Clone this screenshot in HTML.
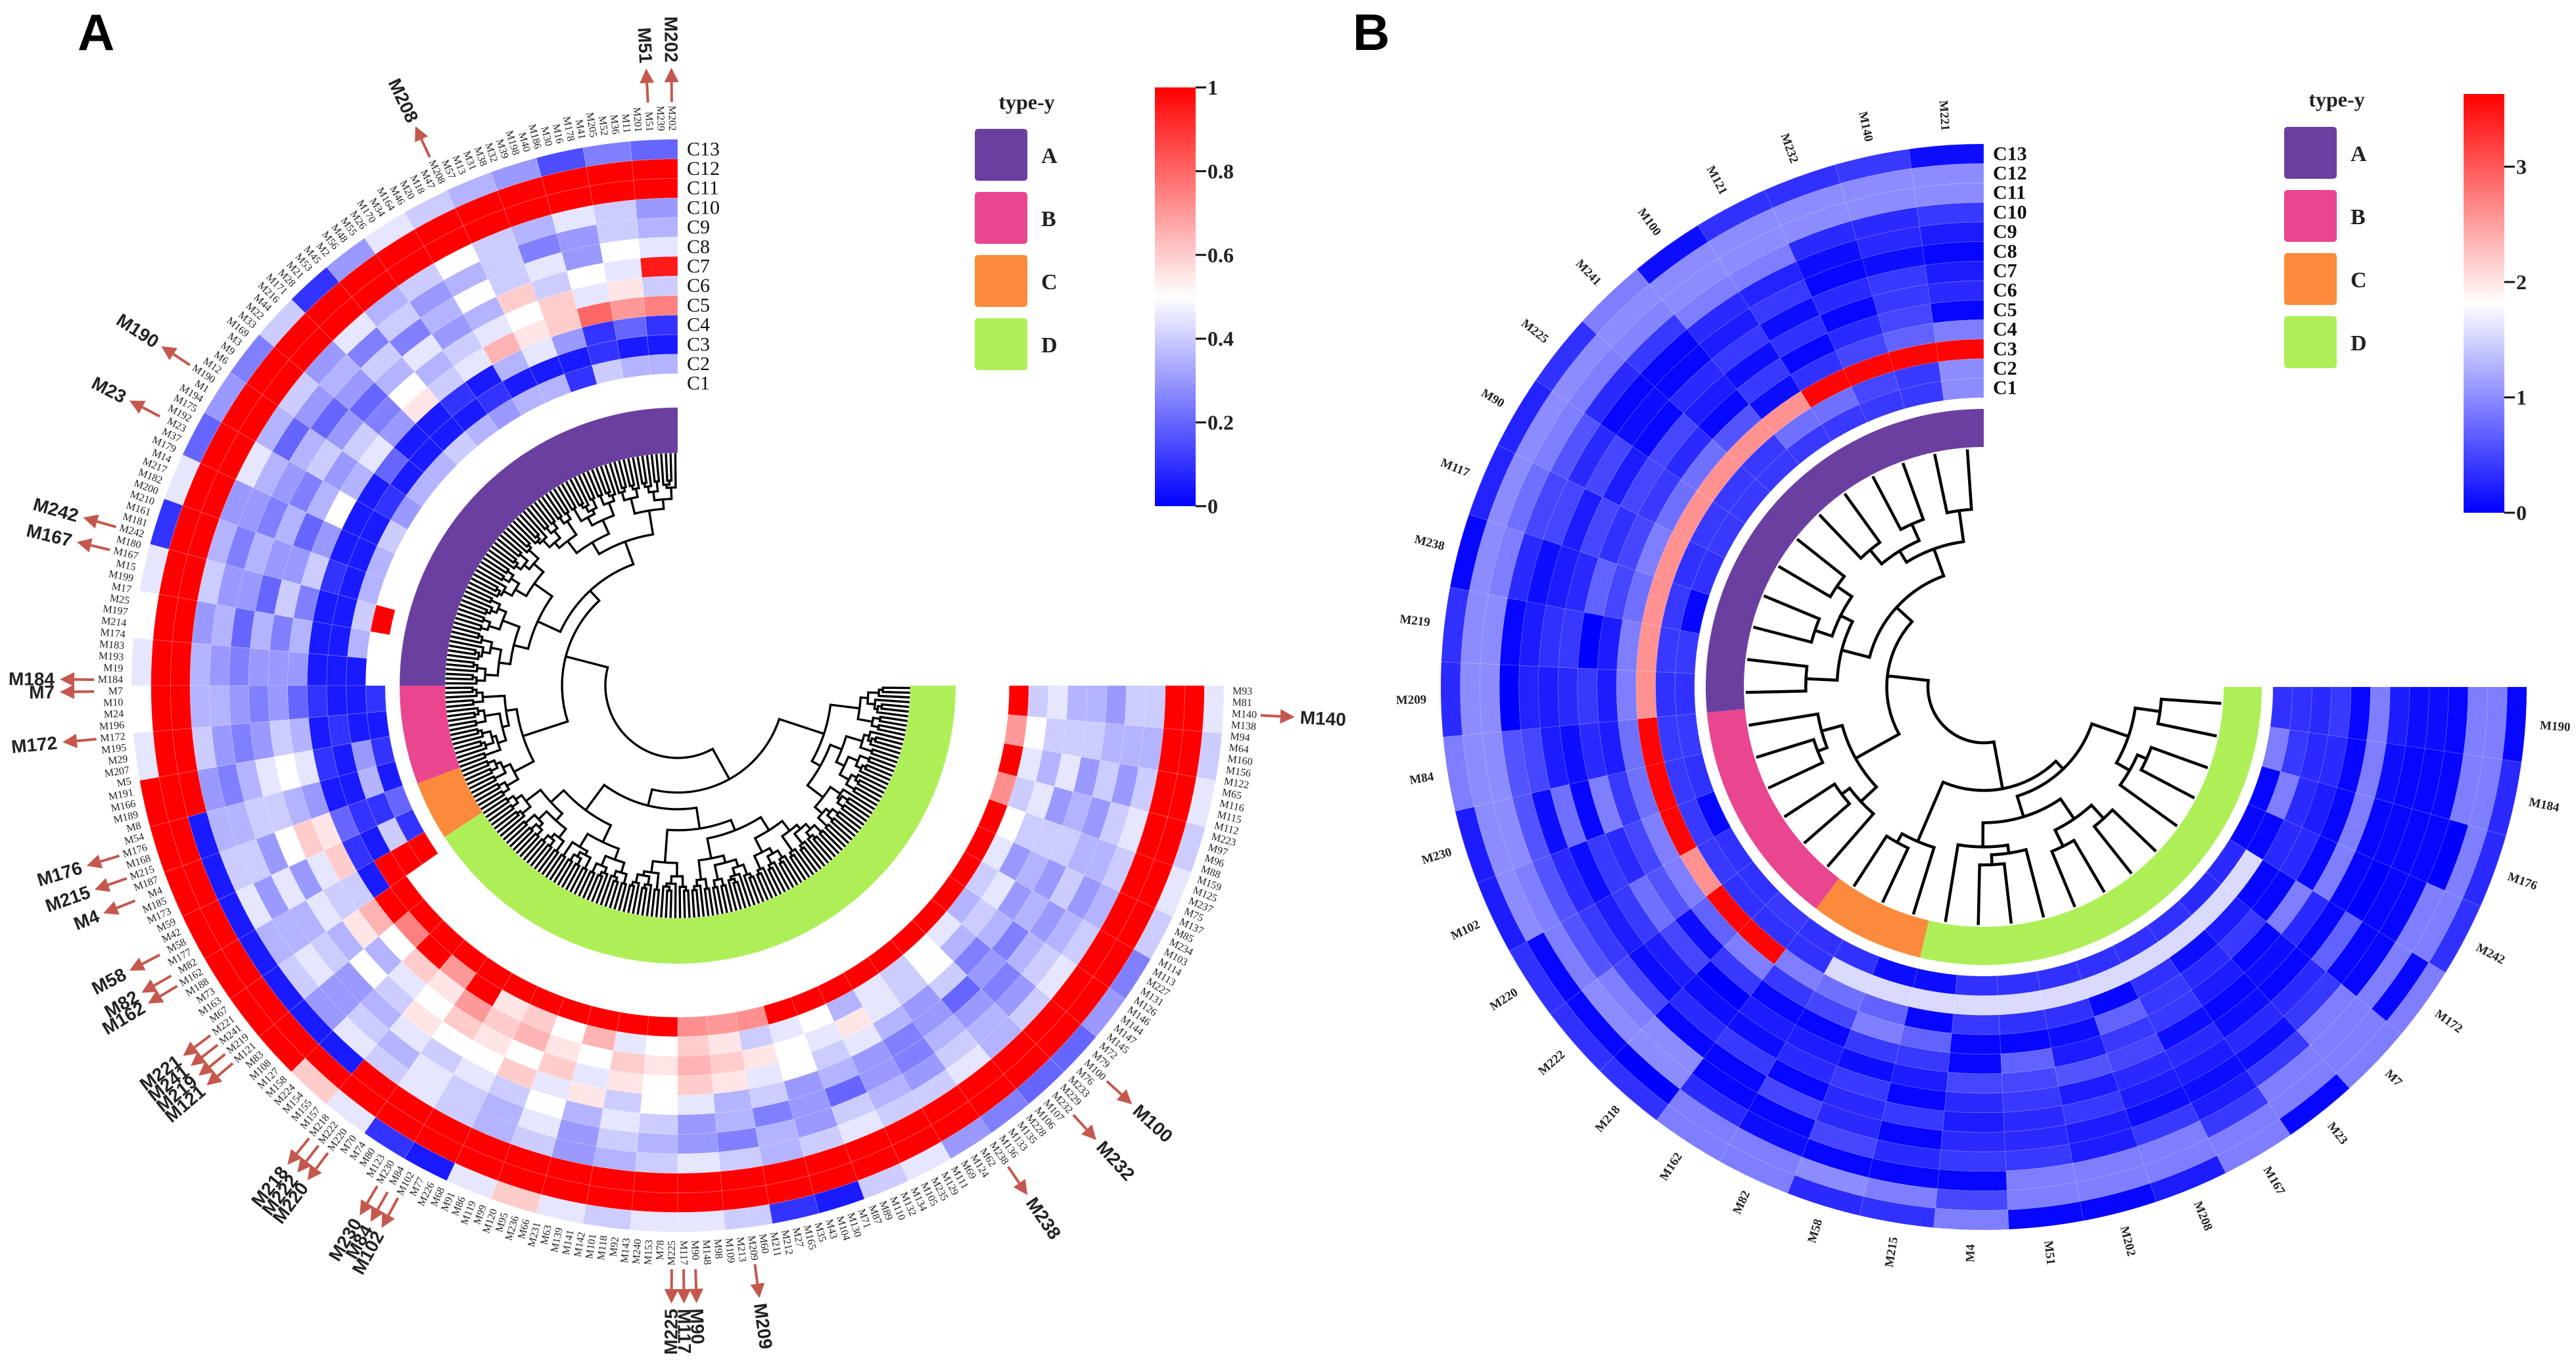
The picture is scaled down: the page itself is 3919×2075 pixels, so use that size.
<!DOCTYPE html>
<html><head><meta charset="utf-8"><title>Circular heatmaps</title>
<style>
html,body{margin:0;padding:0;background:#fff;}
svg{display:block;}
</style></head>
<body>
<svg id="fig" xmlns="http://www.w3.org/2000/svg" width="3919" height="2075" viewBox="0 0 3919 2075">
<rect x="0" y="0" width="3919" height="2075" fill="#fff"/>
<text x="118" y="76" font-family="Liberation Sans, sans-serif" font-weight="bold" font-size="78" fill="#000">A</text>
<text x="2058" y="76" font-family="Liberation Sans, sans-serif" font-weight="bold" font-size="78" fill="#000">B</text>
<defs>
<linearGradient id="gradA" x1="0" y1="0" x2="0" y2="1">
<stop offset="0" stop-color="#ff0000"/><stop offset="0.5" stop-color="#ffffff"/><stop offset="1" stop-color="#0000ff"/>
</linearGradient>
<linearGradient id="gradB" x1="0" y1="0" x2="0" y2="1">
<stop offset="0" stop-color="#ff0000"/><stop offset="0.5" stop-color="#ffffff"/><stop offset="1" stop-color="#0000ff"/>
</linearGradient>
</defs>
<g id="gA"></g>
<g id="gB"></g>
</svg>
<script>
// ---------------- DATA: panel A (values 0..1, 54 segments of 5 degrees, null = no data) ----------------
const ringNames = ['C1','C2','C3','C4','C5','C6','C7','C8','C9','C10','C11','C12','C13'];
const aC1 = [null,null,null,null,null,null,null,null,null,null,null,null,null,null,null,1.0,null,null,0.1,0.05,0.1,0.05,0.2,0.1,1.0,null,null,null,null,null,null,null,null,null,null,null,null,null,null,null,null,null,null,null,null,null,null,null,null,null,null,null,null,null];
const aC2 = [0.35,0.35,0.4,0.1,0.35,0.35,0.3,0.35,0.4,0.35,0.35,0.3,0.4,0.35,0.35,0.4,0.35,0.05,0.05,0.05,0.3,0.35,0.1,0.4,1.0,null,null,null,null,null,null,null,null,null,null,null,null,null,null,null,null,null,null,null,null,null,null,null,null,null,null,null,null,null];
const aC3 = [0.05,0.05,0.1,0.05,0.05,0.05,0.1,0.05,0.05,0.05,0.05,0.1,0.05,0.05,0.05,0.05,0.05,0.05,0.05,0.1,0.05,0.05,0.1,0.05,1,1,1,1,1,1,1,1,1,1,1,1,0.72,0.7,0.72,1,1,1,1,1,1,1,1,1,1,1,0.72,1,0.7,1];
const aC4 = [0.1,0.2,0.1,0.3,0.45,0.35,0.05,0.1,0.05,0.05,0.2,0.05,0.05,0.05,0.1,0.05,0.05,0.05,0.1,0.05,0.1,0.05,0.2,0.1,0.05,1,0.75,1,0.7,1,0.55,0.6,0.5,0.65,0.45,0.5,0.6,0.55,0.4,0.45,0.5,0.35,0.45,0.4,0.5,0.45,0.35,0.4,0.45,0.5,0.4,0.45,0.5,0.4];
const aC5 = [0.75,0.7,0.8,0.6,0.55,0.65,0.45,0.4,0.55,0.3,0.45,0.35,0.5,0.3,0.4,0.25,0.35,0.3,0.2,0.35,0.45,0.3,0.55,0.6,0.4,0.65,0.5,0.6,0.55,0.7,0.6,0.65,0.55,0.5,0.6,0.55,0.65,0.6,0.55,0.5,0.45,0.55,0.45,0.4,0.5,0.35,0.4,0.45,0.3,0.4,0.45,0.35,0.4,0.45];
const aC6 = [0.4,0.55,0.45,0.6,0.5,0.45,0.4,0.35,0.5,0.25,0.4,0.3,0.35,0.2,0.3,0.4,0.25,0.3,0.3,0.4,0.5,0.35,0.6,0.45,0.4,0.55,0.35,0.45,0.5,0.6,0.55,0.5,0.6,0.45,0.55,0.5,0.6,0.55,0.45,0.5,0.4,0.45,0.35,0.3,0.4,0.25,0.35,0.3,0.35,0.4,0.3,0.45,0.4,0.35];
const aC7 = [0.95,0.45,0.5,0.4,0.6,0.35,0.3,0.45,0.35,0.2,0.3,0.4,0.25,0.35,0.3,0.2,0.35,0.3,0.25,0.3,0.45,0.4,0.5,0.3,0.45,0.35,0.5,0.4,0.55,0.5,0.5,0.6,0.45,0.55,0.4,0.5,0.45,0.35,0.4,0.3,0.35,0.3,0.25,0.3,0.2,0.3,0.25,0.35,0.3,0.4,0.35,0.3,0.4,0.35];
const aC8 = [0.45,0.5,0.3,0.45,0.4,0.5,0.35,0.25,0.4,0.3,0.2,0.35,0.3,0.25,0.35,0.3,0.2,0.25,0.3,0.25,0.35,0.4,0.3,0.45,0.35,0.4,0.3,0.35,0.45,0.4,0.45,0.4,0.5,0.35,0.45,0.4,0.3,0.35,0.25,0.3,0.2,0.3,0.25,0.35,0.3,0.25,0.35,0.3,0.4,0.35,0.3,0.4,0.35,0.3];
const aC9 = [0.35,0.4,0.3,0.25,0.4,0.35,0.3,0.4,0.25,0.35,0.3,0.2,0.35,0.3,0.25,0.3,0.35,0.3,0.35,0.3,0.25,0.35,0.4,0.3,0.35,0.45,0.3,0.4,0.35,0.45,0.4,0.35,0.45,0.3,0.4,0.35,0.3,0.25,0.35,0.3,0.4,0.35,0.3,0.4,0.35,0.3,0.4,0.35,0.3,0.35,0.4,0.3,0.35,0.4];
const aC10 = [0.3,0.4,0.45,0.35,0.4,0.5,0.4,0.35,0.45,0.3,0.4,0.35,0.45,0.3,0.35,0.4,0.3,0.35,0.35,0.4,0.3,0.35,0.4,0.45,0.35,0.4,0.3,0.45,0.4,0.45,0.4,0.35,0.4,0.3,0.35,0.4,0.45,0.4,0.35,0.4,0.45,0.4,0.4,0.45,0.35,0.4,0.45,0.4,0.35,0.4,0.45,0.4,0.35,0.4];
const aC11 = [1,1,1,1,1,1,1,1,1,1,1,1,1,1,1,1,1,1,1,1,1,0.05,0.05,0.05,0.05,0.05,0.05,0.05,1,1,1,1,1,1,1,1,1,1,1,1,1,1,1,1,1,1,1,1,1,1,1,1,1,1];
const aC12 = [1,1,1,1,1,1,1,1,1,1,1,1,1,1,1,1,1,1,1,1,1,1,1,1,1,1,1,1,1,1,1,1,1,1,1,1,1,1,1,1,1,1,1,1,1,1,1,1,1,1,1,1,1,1];
const aC13 = [0.2,0.25,0.15,0.3,0.35,0.4,0.45,0.3,0.1,0.4,0.25,0.3,0.2,0.45,0.1,0.45,0.5,0.45,0.5,0.45,1,1,1,1,1,1,1,0.6,0.45,0.1,0.05,0.45,0.6,0.45,0.4,0.45,0.45,0.4,0.1,0.05,0.4,0.45,0.3,0.25,0.2,0.2,0.3,0.25,0.4,0.45,0.4,0.45,0.4,0.45];
const aRings = [aC1,aC2,aC3,aC4,aC5,aC6,aC7,aC8,aC9,aC10,aC11,aC12,aC13];
const aTypes = ['A','B','C','D'];
const aTypeSpan = [90,20.6,12.4,147];
const aLabels = ['M202','M239','M51','M201','M11','M36','M52','M205','M41','M178','M16','M30','M186','M40','M198','M39','M32','M38','M31','M13','M57','M208','M47','M18','M20','M46','M164','M34','M170','M26','M55','M48','M56','M2','M45','M53','M21','M28','M171','M216','M44','M22','M33','M169','M3','M9','M6','M12','M190','M1','M194','M175','M192','M23','M37','M179','M14','M217','M182','M200','M210','M161','M181','M242','M180','M167','M15','M199','M17','M25','M197','M214','M174','M183','M193','M19','M184','M7','M10','M24','M196','M172','M195','M29','M207','M5','M191','M166','M189','M8','M54','M176','M168','M215','M187','M4','M185','M173','M59','M42','M58','M177','M82','M162','M188','M73','M163','M67','M221','M241','M219','M121','M83','M108','M127','M158','M224','M154','M155','M157','M218','M222','M220','M70','M74','M80','M123','M230','M84','M102','M77','M226','M68','M91','M86','M119','M99','M120','M95','M236','M66','M231','M63','M139','M141','M142','M101','M118','M92','M143','M240','M153','M78','M225','M117','M90','M148','M98','M109','M213','M209','M60','M211','M212','M27','M165','M35','M43','M104','M130','M71','M87','M89','M110','M132','M134','M105','M235','M129','M111','M69','M124','M62','M238','M136','M133','M135','M228','M106','M107','M232','M229','M233','M76','M100','M79','M72','M145','M147','M144','M146','M126','M131','M227','M113','M114','M103','M234','M85','M137','M75','M237','M125','M159','M88','M96','M97','M223','M112','M115','M116','M65','M122','M156','M160','M64','M94','M138','M140','M81','M93'];
const aHighlights = ['M51','M202','M208','M190','M23','M242','M167','M184','M7','M172','M176','M215','M4','M58','M82','M162','M221','M241','M219','M121','M218','M222','M220','M230','M84','M102','M225','M117','M90','M209','M238','M232','M100','M140'];
const aTicks = [0,0.2,0.4,0.6,0.8,1];
const aTickLabels = ['0','0.2','0.4','0.6','0.8','1'];

// ---------------- DATA: panel B (values 0..3.6, 34 columns) ----------------
const bLabels = ['M221','M140','M232','M121','M100','M241','M225','M90','M117','M238','M219','M209','M84','M230','M102','M220','M222','M218','M162','M82','M58','M215','M4','M51','M202','M208','M167','M23','M7','M172','M242','M176','M184','M190'];
const bC1  = [1.0,0.4,0.4,0.4,0.4,0.4,0.4,0.4,0.35,0.05,0.4,0.35,0.4,0.35,0.05,0.35,0.35,0.4,0.35,0.35,0.1,0.1,0.35,0.35,0.35,0.35,0.35,0.35,0.3,0.3,0.05,0.05,0.9,0.35];
const bC2  = [1.0,0.4,0.5,0.8,0.8,0.4,0.4,0.4,0.35,0.4,0.4,0.35,0.4,0.4,0.4,0.4,0.35,0.35,0.35,1.55,1.55,1.55,1.55,1.55,1.55,1.55,1.55,1.55,1.55,1.55,0.05,0.9,0.4,0.35];
const bC3  = [3.6,3.6,3.6,3.6,2.6,2.6,2.6,2.6,2.6,2.6,2.6,2.6,3.6,3.6,3.6,2.6,3.6,3.6,0.9,0.8,0.7,0.05,0.4,0.35,0.35,0.05,0.35,0.1,0.2,0.05,0.3,0.3,0.3,0.3];
const bC4  = [0.9,0.7,0.5,0.35,0.1,0.6,0.8,0.8,0.9,0.8,0.9,0.9,0.8,0.8,0.9,0.9,0.7,0.9,0.4,0.5,0.9,0.7,0.05,0.05,0.1,0.7,0.4,0.3,0.4,0.05,0.3,0.2,0.3,0.4];
const bC5  = [0.05,0.5,0.3,0.05,0.4,0.05,0.3,0.4,0.5,0.5,0.2,0.2,0.2,0.4,0.5,0.6,0.1,0.4,0.05,0.05,0.4,0.4,0.05,0.7,0.2,0.4,0.4,0.2,0.05,0.9,0.05,0.05,0.05,0.05];
const bC6  = [0.3,0.4,0.05,0.35,0.1,0.2,0.5,0.5,0.35,0.7,0.0,0.4,0.3,0.9,0.3,0.8,0.5,0.0,0.2,0.2,0.1,0.2,0.5,0.5,0.6,0.5,0.1,0.05,0.1,0.3,0.9,0.9,0.9,0.9];
const bC7  = [0.2,0.4,0.3,0.1,0.4,0.3,0.05,0.2,0.5,0.3,0.4,0.3,0.1,0.05,0.4,0.4,0.2,0.1,0.1,0.3,0.4,0.05,0.3,0.4,0.2,0.3,0.3,0.1,0.05,0.05,0.05,0.05,0.1,0.2];
const bC8  = [0.05,0.1,0.05,0.4,0.2,0.05,0.1,0.5,0.2,0.2,0.35,0.2,0.2,0.8,0.1,0.2,0.1,0.3,0.4,0.05,0.3,0.4,0.2,0.3,0.4,0.2,0.2,0.3,0.3,0.7,0.0,0.05,0.05,0.1];
const bC9  = [0.2,0.3,0.1,0.25,0.3,0.05,0.05,0.3,0.5,0.1,0.2,0.25,0.5,0.1,0.3,0.4,0.5,0.05,0.05,0.5,0.3,0.05,0.3,0.3,0.2,0.1,0.1,0.1,0.4,0.05,0.05,0.05,0.05,0.1];
const bC10 = [0.4,0.3,0.3,0.9,0.9,0.4,0.3,0.6,0.5,0.3,0.05,0.0,0.6,0.6,0.6,0.6,0.9,1.0,0.05,0.05,0.5,0.3,0.4,0.4,0.2,0.4,0.2,0.4,0.9,0.05,0.05,0.05,0.05,0.05];
const bC11 = [1.0,1.0,1.0,1.0,1.0,0.95,0.9,0.9,0.8,0.9,1.0,1.0,1.0,1.0,0.9,0.9,1.0,1.0,0.3,0.1,0.05,0.05,0.05,0.9,0.9,0.9,0.4,0.9,0.9,0.9,0.9,0.0,0.9,0.9];
const bC12 = [1.0,1.0,1.0,1.0,1.0,1.0,1.0,1.0,1.0,1.0,1.0,1.0,1.0,1.0,1.0,0.05,0.05,0.0,0.9,0.9,1.0,0.9,0.5,0.9,0.9,0.9,0.9,0.9,0.9,0.05,0.9,0.9,0.9,0.9];
const bC13 = [0.1,0.4,0.35,0.35,0.1,0.9,0.35,0.25,0.25,0.05,0.35,0.3,0.9,0.2,0.2,0.35,0.35,0.35,0.9,0.9,0.3,0.35,0.9,0.05,0.05,0.2,0.9,0.05,0.9,0.9,0.35,0.3,0.3,0.05];
const bRings = [bC1,bC2,bC3,bC4,bC5,bC6,bC7,bC8,bC9,bC10,bC11,bC12,bC13];
const bTypes = ['A','B','C','D'];
const bTypeCounts = [12,6,3,13];
const bTicks = [0,1,2,3];
const bTickLabels = ['0','1','2','3'];
const bMax = 3.63;

// ---------------- helpers ----------------
const NS = 'http://www.w3.org/2000/svg';
const typeColors = {A:'#6b3fa0', B:'#ea4690', C:'#fb8a3c', D:'#aeef58'};
const D2R = Math.PI/180;
function mk(tag, attrs, parent){
  const e = document.createElementNS(NS, tag);
  for (const k in attrs) e.setAttribute(k, attrs[k]);
  parent.appendChild(e);
  return e;
}
function pt(cx, cy, th, r){ return [cx - r*Math.sin(th*D2R), cy - r*Math.cos(th*D2R)]; }
function sectorPath(cx, cy, t1, t2, r1, r2){
  const la = (t2 - t1) > 180 ? 1 : 0;
  const a = pt(cx,cy,t1,r2), b = pt(cx,cy,t2,r2), c = pt(cx,cy,t2,r1), d = pt(cx,cy,t1,r1);
  return `M${a[0].toFixed(2)},${a[1].toFixed(2)} A${r2},${r2} 0 ${la} 0 ${b[0].toFixed(2)},${b[1].toFixed(2)} L${c[0].toFixed(2)},${c[1].toFixed(2)} A${r1},${r1} 0 ${la} 1 ${d[0].toFixed(2)},${d[1].toFixed(2)} Z`;
}
function divColor(v, max){
  const mid = max/2;
  let r,g,b;
  if (v <= mid){ const t = Math.max(0, v/mid); r = 255*t; g = 255*t; b = 255; }
  else { const t = Math.min(1, (v-mid)/mid); r = 255; g = 255*(1-t); b = 255*(1-t); }
  return `rgb(${Math.round(r)},${Math.round(g)},${Math.round(b)})`;
}
function radialText(parent, txt, cx, cy, th, r, size, weight, family, fill){
  const p = pt(cx,cy,th,r);
  const phi = Math.atan2(-Math.cos(th*D2R), -Math.sin(th*D2R)) / D2R;
  const flip = Math.cos(phi*D2R) < -0.001;
  const t = mk('text', {x:p[0].toFixed(1), y:p[1].toFixed(1), 'font-size':size, 'font-weight':weight, 'font-family':family, fill:fill,
    'dominant-baseline':'central', 'text-anchor': flip ? 'end' : 'start',
    transform:`rotate(${(flip ? phi+180 : phi).toFixed(2)} ${p[0].toFixed(1)} ${p[1].toFixed(1)})`}, parent);
  t.textContent = txt;
  return t;
}
const splitRatios = [0.5,0.38,0.62,0.45,0.3,0.55,0.7,0.42];
function drawTree(parent, cx, cy, n, angOf, bounds, leafR, rootR, sw, nameBase){
  let k = 0;
  const g = mk('g', {fill:'none', stroke:'#000', 'stroke-width':sw, 'stroke-linecap':'square'}, parent);
  
  
  let d = '';
  function rad(size){ return rootR + (leafR - 8 - rootR) * (1 - Math.pow(size/n, 0.42)); }
  function node(lo, hi){
    const size = hi - lo;
    if (size === 1) return {a: angOf(lo), r: leafR};
    let m = null;
    const inner = bounds.filter(b => b > lo && b < hi);
    if (inner.length){ let best = inner[0]; inner.forEach(b => { if (Math.abs(b-(lo+hi)/2) < Math.abs(best-(lo+hi)/2)) best = b; }); m = best; }
    else { m = lo + Math.max(1, Math.min(size-1, Math.round(size*splitRatios[k++ % splitRatios.length]))); }
    const c1 = node(lo, m), c2 = node(m, hi);
    const r = rad(size);
    const p1 = pt(cx,cy,c1.a,r), p2 = pt(cx,cy,c2.a,r);
    const q1 = pt(cx,cy,c1.a,c1.r), q2 = pt(cx,cy,c2.a,c2.r);
    const la = (c2.a - c1.a) > 180 ? 1 : 0;
    d += `M${q1[0].toFixed(1)},${q1[1].toFixed(1)}L${p1[0].toFixed(1)},${p1[1].toFixed(1)}A${r.toFixed(1)},${r.toFixed(1)} 0 ${la} 0 ${p2[0].toFixed(1)},${p2[1].toFixed(1)}L${q2[0].toFixed(1)},${q2[1].toFixed(1)}`;
    return {a: (c1.a + c2.a)/2, r: r};
  }
  node(0, n);
  const path = mk('path', {d:d}, g);
  
  
}
function legend(parent, x, y, pitch, titleX, titleY, types){
  const t = mk('text', {x:titleX, y:titleY, 'font-family':'Liberation Serif, serif', 'font-weight':'bold', 'font-size':32, 'text-anchor':'middle', fill:'#222'}, parent);
  t.textContent = 'type-y';
  
  
  types.forEach((ty, i) => {
    const r = mk('rect', {x:x, y:y + i*pitch, width:80, height:79, rx:5, fill:typeColors[ty]}, parent);
    
    
    const l = mk('text', {x:x+101, y:y + i*pitch + 52, 'font-family':'Liberation Serif, serif', 'font-weight':'bold', 'font-size':34, fill:'#222'}, parent);
    l.textContent = ty;
    
    
  });
}
function colorbar(parent, x, y0, y1, w, grad, ticks, labels, max){
  const r = mk('rect', {x:x, y:y0, width:w, height:y1-y0, fill:`url(#${grad})`}, parent);
  
  
  ticks.forEach((v, i) => {
    const yy = y1 - (v/max)*(y1-y0);
    const ln = mk('line', {x1:x+w, x2:x+w+16, y1:yy, y2:yy, stroke:'#111', 'stroke-width':3}, parent);
    
    
    const t = mk('text', {x:x+w+18, y:yy, 'dominant-baseline':'central', 'font-family':'Liberation Serif, serif', 'font-weight':'bold', 'font-size':32, fill:'#222'}, parent);
    t.textContent = labels[i];
    
    
  });
}

// ---------------- PANEL A ----------------
(function(){
  const G = document.getElementById('gA');
  const cx = 1031, cy = 1043, r0 = 445, w = 29.7, span = 270;
  const nSeg = aC1.length;
  const segW = span / nSeg;
  aRings.forEach((ring, ri) => {
    const g = mk('g', {}, G);
    
    
    ring.forEach((v, si) => {
      if (v === null) return;
      const p = mk('path', {d: sectorPath(cx, cy, si*segW, (si+1)*segW, r0 + ri*w, r0 + (ri+1)*w), fill: divColor(v, 1), stroke:'rgba(255,255,255,0.25)', 'stroke-width':0.8}, g);
      
      
    });
    const lab = mk('text', {x: cx + 14, y: cy - (r0 + (ri+0.5)*w), 'dominant-baseline':'central', 'font-family':'Liberation Serif, serif', 'font-size':30, fill:'#111'}, G);
    lab.textContent = ringNames[ri];
    
    
  });
  let acc = 0;
  aTypes.forEach((ty, i) => {
    const p = mk('path', {d: sectorPath(cx, cy, acc, acc + aTypeSpan[i], 354, 423), fill: typeColors[ty]}, G);
    
    
    acc += aTypeSpan[i];
  });
  const n = aLabels.length;
  const colW = span / n;
  const bounds = [];
  let a2 = 0;
  aTypeSpan.slice(0,3).forEach(s => { a2 += s; bounds.push(Math.round(a2 / colW)); });
  drawTree(G, cx, cy, n, i => (i+0.5)*colW, bounds, 352, 110, 3.4, 'dendrogram-a');
  const lg = mk('g', {}, G);
  
  
  aLabels.forEach((lbl, i) => {
    const t = radialText(lg, lbl, cx, cy, (i+0.5)*colW, 844, 16, 'normal', 'Liberation Serif, serif', '#222');
    
    
  });
  const hg = mk('g', {}, G);
  
  
  aHighlights.forEach(name => {
    const idx = aLabels.indexOf(name);
    if (idx < 0) return;
    const th = (idx+0.5)*colW;
    const a = pt(cx,cy,th,888), b = pt(cx,cy,th,918), tip = pt(cx,cy,th,940);
    const ux = -Math.sin(th*D2R), uy = -Math.cos(th*D2R), px = -uy, py = ux;
    const ln = mk('line', {x1:a[0], y1:a[1], x2:b[0], y2:b[1], stroke:'#c5584e', 'stroke-width':4}, hg);
    
    
    const head = mk('polygon', {points:`${tip[0]},${tip[1]} ${b[0]+px*11},${b[1]+py*11} ${b[0]-px*11},${b[1]-py*11}`, fill:'#c5584e'}, hg);
    
    
    const t = radialText(hg, name, cx, cy, th, 948, 28, 'bold', 'Liberation Sans, sans-serif', '#222');
    
    
  });
  legend(G, 1483, 196, 96, 1562, 166, aTypes);
  colorbar(G, 1757, 133, 770, 62, 'gradA', aTicks, aTickLabels, 1);
})();

// ---------------- PANEL B ----------------
(function(){
  const G = document.getElementById('gB');
  const cx = 3018, cy = 1045, r0 = 440, w = 29.7, span = 270;
  const n = bLabels.length;
  const colW = span / n;
  bRings.forEach((ring, ri) => {
    const g = mk('g', {}, G);
    
    
    ring.forEach((v, ci) => {
      const p = mk('path', {d: sectorPath(cx, cy, ci*colW, (ci+1)*colW, r0 + ri*w, r0 + (ri+1)*w), fill: divColor(v, bMax), stroke:'rgba(255,255,255,0.18)', 'stroke-width':0.8}, g);
      
      
    });
    const lab = mk('text', {x: cx + 14, y: cy - (r0 + (ri+0.5)*w), 'dominant-baseline':'central', 'font-family':'Liberation Serif, serif', 'font-weight':'bold', 'font-size':30, fill:'#111'}, G);
    lab.textContent = ringNames[ri];
    
    
  });
  let acc = 0;
  const bounds = [];
  bTypes.forEach((ty, i) => {
    const p = mk('path', {d: sectorPath(cx, cy, acc*colW, (acc + bTypeCounts[i])*colW, 365, 423), fill: typeColors[ty]}, G);
    
    
    acc += bTypeCounts[i];
    if (i < 3) bounds.push(acc);
  });
  drawTree(G, cx, cy, n, i => (i+0.5)*colW, bounds, 360, 85, 4.5, 'dendrogram-b');
  const lg = mk('g', {}, G);
  
  
  bLabels.forEach((lbl, i) => {
    const t = radialText(lg, lbl, cx, cy, (i+0.5)*colW, 848, 19, 'bold', 'Liberation Serif, serif', '#222');
    
    
  });
  legend(G, 3475, 193, 96, 3555, 162, bTypes);
  colorbar(G, 3748, 143, 780, 62, 'gradB', bTicks, bTickLabels, bMax);
})();
</script>
</body></html>
